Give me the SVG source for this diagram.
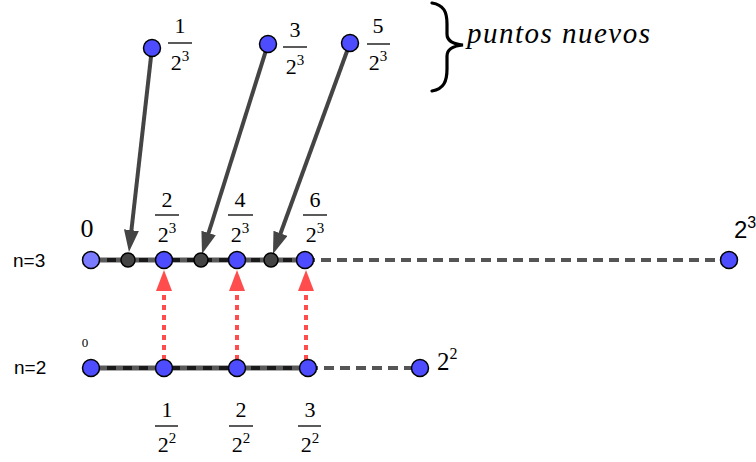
<svg xmlns="http://www.w3.org/2000/svg" width="756" height="462" viewBox="0 0 756 462">
<style>
text{fill:#000}
.ser{font-family:"Liberation Serif","Times New Roman",serif}
.ss{font-family:"Liberation Sans",Arial,sans-serif}
.num{font-size:22px;text-anchor:middle}
.sup{font-size:15px}
.bar{stroke:#000;stroke-width:1.3}
.axis{stroke:#5a5a5a;stroke-width:5;fill:none}
.axisd{stroke:#1a1a1a;stroke-width:4;stroke-dasharray:9 7;fill:none}
.ext{stroke:#555;stroke-width:4;stroke-dasharray:10 6;fill:none}
.arr{stroke:#444;stroke-width:4;fill:none;marker-end:url(#ah)}
.red{stroke:#ff4d4d;stroke-width:4;stroke-dasharray:5 5;fill:none;marker-end:url(#rh)}
.pt{fill:#4d4dff;stroke:#000;stroke-width:1.5}
.pl{fill:#7b7bff;stroke:#000;stroke-width:1.5}
.pd{fill:#444;stroke:#000;stroke-width:1.5}
</style>
<defs>
<marker id="ah" markerUnits="userSpaceOnUse" markerWidth="22" markerHeight="16" refX="10" refY="7.5" orient="auto">
<path d="M0,0 L22,7.5 L0,15 z" fill="#444"/>
</marker>
<marker id="rh" markerUnits="userSpaceOnUse" markerWidth="21" markerHeight="17" refX="1" refY="8" orient="auto">
<path d="M0,0 L21,8 L0,16 z" fill="#ff4d4d"/>
</marker>
</defs>

<g id="connectors">
<line class="axis" x1="91" y1="260" x2="305" y2="260"/>
<line class="axisd" x1="91" y1="260" x2="305" y2="260"/>
<line class="ext" x1="305" y1="260" x2="729" y2="260"/>
<line class="axis" x1="91" y1="368" x2="308" y2="368"/>
<line class="axisd" x1="91" y1="368" x2="308" y2="368"/>
<line class="ext" x1="308" y1="368" x2="420" y2="368"/>
<line class="arr" x1="152" y1="48" x2="130.3" y2="240.1"/>
<line class="arr" x1="268" y1="44" x2="205.6" y2="242.5"/>
<line class="arr" x1="350" y1="43" x2="277.1" y2="242.7"/>
<line class="red" x1="164" y1="360" x2="164" y2="290"/>
<line class="red" x1="237" y1="360" x2="237" y2="290"/>
<line class="red" x1="306" y1="360" x2="306" y2="290"/>
</g>

<g id="n3-row">
<text class="ss" x="13" y="267" font-size="19">n=3</text>
<g id="n3-p0"><circle class="pl" cx="91" cy="260" r="8.5"/><text class="ser" x="87" y="237" font-size="26" text-anchor="middle">0</text></g>
<g id="n3-d1"><circle class="pd" cx="128" cy="260" r="7"/></g>
<g id="n3-p2"><circle class="pt" cx="164" cy="260" r="8.5"/>
<text class="ser num" x="167" y="207">2</text><line class="bar" x1="155" y1="215" x2="179" y2="215"/><text class="ser num" x="167" y="242">2<tspan class="sup" dy="-9">3</tspan></text></g>
<g id="n3-d3"><circle class="pd" cx="201" cy="260" r="7"/></g>
<g id="n3-p4"><circle class="pt" cx="237" cy="260" r="8.5"/>
<text class="ser num" x="240" y="207">4</text><line class="bar" x1="228" y1="215" x2="253" y2="215"/><text class="ser num" x="240" y="242">2<tspan class="sup" dy="-9">3</tspan></text></g>
<g id="n3-d5"><circle class="pd" cx="271" cy="260" r="7"/></g>
<g id="n3-p6"><circle class="pt" cx="305" cy="260" r="8.5"/>
<text class="ser num" x="315" y="207">6</text><line class="bar" x1="303" y1="215" x2="327" y2="215"/><text class="ser num" x="315" y="242">2<tspan class="sup" dy="-9">3</tspan></text></g>
<g id="n3-end"><circle class="pt" cx="729" cy="260" r="8.5"/><text class="ss" x="734" y="238" font-size="24">2<tspan font-size="16" dy="-10">3</tspan></text></g>
</g>

<g id="n2-row">
<text class="ss" x="14" y="374" font-size="19">n=2</text>
<g id="n2-p0"><circle class="pt" cx="91" cy="368" r="8.5"/><text class="ser" x="85" y="347" font-size="13" text-anchor="middle">0</text></g>
<g id="n2-p1"><circle class="pt" cx="164" cy="368" r="8.5"/>
<text class="ser num" x="167" y="417">1</text><line class="bar" x1="155" y1="426" x2="178" y2="426"/><text class="ser num" x="167" y="452">2<tspan class="sup" dy="-9">2</tspan></text></g>
<g id="n2-p2"><circle class="pt" cx="237" cy="368" r="8.5"/>
<text class="ser num" x="241" y="417">2</text><line class="bar" x1="229" y1="426" x2="253" y2="426"/><text class="ser num" x="241" y="452">2<tspan class="sup" dy="-9">2</tspan></text></g>
<g id="n2-p3"><circle class="pt" cx="308" cy="368" r="8.5"/>
<text class="ser num" x="310" y="417">3</text><line class="bar" x1="298" y1="426" x2="321" y2="426"/><text class="ser num" x="310" y="452">2<tspan class="sup" dy="-9">2</tspan></text></g>
<g id="n2-end"><circle class="pt" cx="420" cy="368" r="8.5"/><text class="ser" x="437" y="370" font-size="25">2<tspan font-size="16" dy="-11">2</tspan></text></g>
</g>

<g id="new-points">
<g id="new1"><circle class="pt" cx="152" cy="48" r="8.5"/>
<text class="ser num" x="180" y="33">1</text><line class="bar" x1="168" y1="43" x2="192" y2="43"/><text class="ser num" x="180" y="70">2<tspan class="sup" dy="-9">3</tspan></text></g>
<g id="new3"><circle class="pt" cx="268" cy="44" r="8.5"/>
<text class="ser num" x="295" y="37">3</text><line class="bar" x1="283" y1="47" x2="307" y2="47"/><text class="ser num" x="295" y="74">2<tspan class="sup" dy="-9">3</tspan></text></g>
<g id="new5"><circle class="pt" cx="350" cy="43" r="8.5"/>
<text class="ser num" x="378" y="33">5</text><line class="bar" x1="367" y1="44" x2="390" y2="44"/><text class="ser num" x="378" y="70">2<tspan class="sup" dy="-9">3</tspan></text></g>
</g>

<g id="brace-label">
<path d="M432,3 C444,5 447,12 447,24 L447,34 C447,40 452,44 463,45 C452,46 447,50 447,56 L447,69 C447,81 444,89 432,91" fill="none" stroke="#000" stroke-width="3.2" stroke-linecap="round"/>
<text class="ser" x="467" y="43" font-size="29" font-style="italic" textLength="183" lengthAdjust="spacing">puntos  nuevos</text>
</g>
</svg>
